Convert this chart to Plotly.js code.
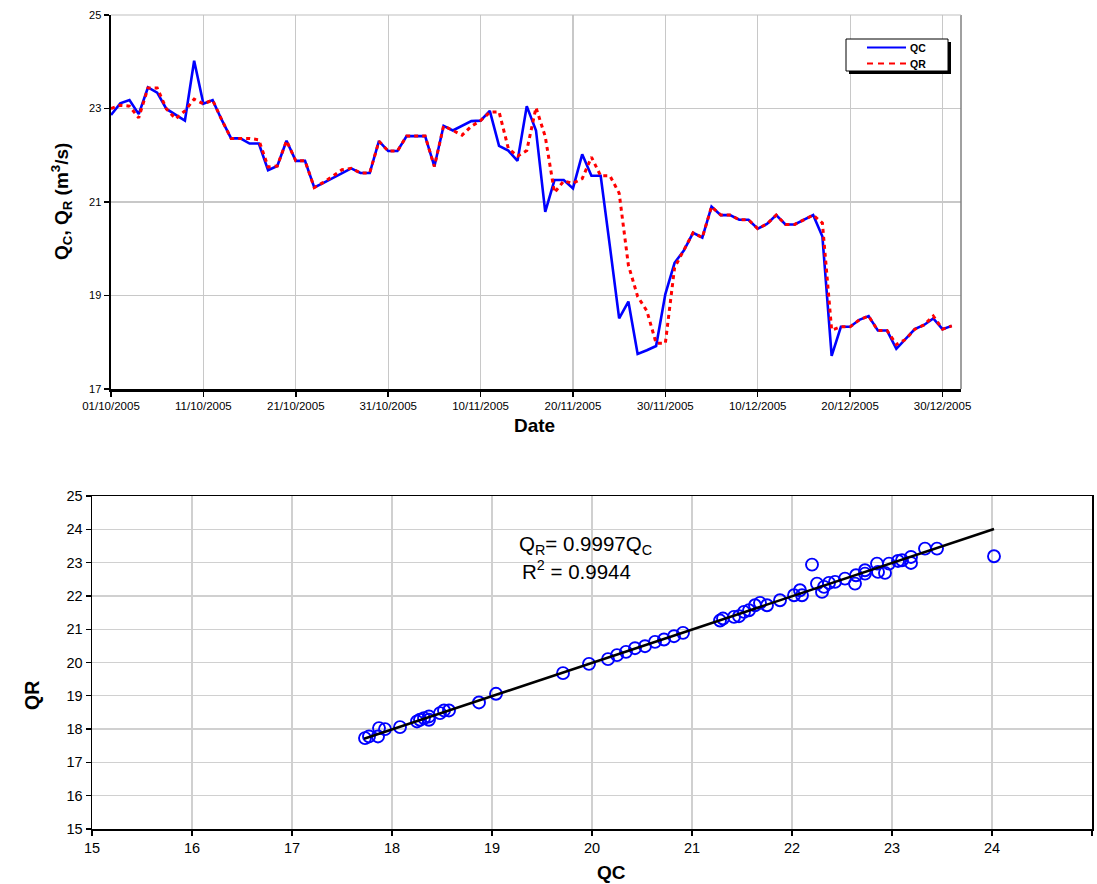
<!DOCTYPE html>
<html>
<head>
<meta charset="utf-8">
<script src="https://cdn.plot.ly/plotly-3.0.1.min.js"></script>
<style>
  html, body { margin: 0; padding: 0; background: #ffffff; }
  #chart { width: 1097px; height: 884px; }
</style>
</head>
<body>
<div id="chart"></div>
<script>
// ---------- data: daily flows, 01/10/2005 .. 31/12/2005 ----------
const startDate = '2005-10-01';
const qcValues = [
  22.86, 23.11, 23.18, 22.88, 23.45, 23.34, 22.99, 22.87, 22.74, 24.02,
  23.10, 23.18, 22.75, 22.36, 22.36, 22.25, 22.25, 21.68, 21.77, 22.31,
  21.88, 21.88, 21.31, 21.41, 21.51, 21.62, 21.72, 21.62, 21.62, 22.30,
  22.09,
  22.09, 22.41, 22.41, 22.41, 21.76, 22.63, 22.53, 22.63, 22.73, 22.74,
  22.95, 22.20, 22.10, 21.88, 23.05, 22.53, 20.79, 21.47, 21.47, 21.29,
  22.02, 21.56, 21.56, 20.05, 18.51, 18.87, 17.75, 17.83, 17.92, 19.03,
  19.70, 19.96, 20.34, 20.24, 20.90, 20.72, 20.72, 20.62, 20.62, 20.43,
  20.53, 20.72, 20.52, 20.52, 20.62, 20.72, 20.26, 17.71, 18.33, 18.33,
  18.48, 18.56, 18.25, 18.25, 17.86, 18.06, 18.28, 18.37, 18.51, 18.28,
  18.35
];
const qrValues = [
  23.00, 23.07, 23.05, 22.80, 23.44, 23.44, 22.99, 22.78, 22.95, 23.20,
  23.10, 23.18, 22.75, 22.36, 22.36, 22.36, 22.33, 21.75, 21.77, 22.31,
  21.88, 21.88, 21.31, 21.42, 21.55, 21.69, 21.72, 21.62, 21.62, 22.30,
  22.09,
  22.09, 22.41, 22.41, 22.41, 21.76, 22.63, 22.53, 22.43, 22.62, 22.74,
  22.92, 22.93, 22.15, 21.98, 22.10, 23.02, 22.40, 21.20, 21.45, 21.40,
  21.50, 21.96, 21.56, 21.56, 21.19, 19.65, 18.98, 18.67, 17.98, 17.98,
  19.60, 19.96, 20.34, 20.24, 20.90, 20.72, 20.72, 20.62, 20.62, 20.43,
  20.53, 20.72, 20.52, 20.52, 20.62, 20.72, 20.55, 18.26, 18.33, 18.33,
  18.48, 18.56, 18.25, 18.25, 17.95, 18.06, 18.28, 18.37, 18.56, 18.28,
  18.35
];
const dateTickVals = ['2005-10-01','2005-10-11','2005-10-21','2005-10-31','2005-11-10',
                      '2005-11-20','2005-11-30','2005-12-10','2005-12-20','2005-12-30'];
const dateTickText = ['01/10/2005','11/10/2005','21/10/2005','31/10/2005','10/11/2005',
                      '20/11/2005','30/11/2005','10/12/2005','20/12/2005','30/12/2005'];
const topYTicks = [17, 19, 21, 23, 25];
const seriesNames = ['QC', 'QR'];

// ---------- scatter QC vs QR ----------
const scatterQC = [
  17.73, 17.77, 17.86, 17.87, 17.93, 18.08, 18.25, 18.28, 18.32, 18.37,
  18.37, 18.48, 18.52, 18.57, 18.87, 19.04, 19.71, 19.97, 20.16, 20.25,
  20.34, 20.43, 20.53, 20.63, 20.72, 20.82, 20.91, 21.28, 21.31, 21.42,
  21.47, 21.52, 21.57, 21.63, 21.68, 21.75, 21.88, 22.02, 22.08, 22.10,
  22.20, 22.25, 22.30, 22.32, 22.37, 22.43, 22.53, 22.63, 22.64, 22.73,
  22.73, 22.85, 22.86, 22.93, 22.97, 23.06, 23.10, 23.19, 23.19, 23.33,
  23.45, 24.02
];
const scatterQR = [
  17.73, 17.78, 17.78, 18.03, 18.00, 18.06, 18.23, 18.28, 18.33, 18.28,
  18.38, 18.48, 18.56, 18.56, 18.80, 19.06, 19.68, 19.96, 20.10, 20.22,
  20.32, 20.43, 20.49, 20.62, 20.69, 20.79, 20.89, 21.26, 21.32, 21.37,
  21.39, 21.52, 21.57, 21.72, 21.79, 21.72, 21.87, 22.02, 22.17, 22.02,
  22.94, 22.37, 22.12, 22.27, 22.39, 22.42, 22.52, 22.37, 22.62, 22.67,
  22.77, 22.97, 22.72, 22.69, 22.97, 23.05, 23.07, 23.17, 22.99, 23.42,
  23.42, 23.19
];
const trendQC = [17.72, 24.02];
const trendQR = [17.71, 24.01];
const scatterTicks = [15,16,17,18,19,20,21,22,23,24,25];

// ---------- build dates ----------
function dayList(start, n) {
  const out = [];
  const d0 = new Date(start + 'T00:00:00Z');
  for (let i = 0; i < n; i++) {
    const d = new Date(d0.getTime() + i * 86400000);
    out.push(d.toISOString().slice(0, 10));
  }
  return out;
}
const dates = dayList(startDate, qcValues.length);

const FONT = 'Arial, "Liberation Sans", sans-serif';
const W = 1097, H = 884;
const px = v => v / W;
const py = v => 1 - v / H;

const QC_LINE = { color: '#0000ff', width: 2.6 };
const QR_LINE = { color: '#ff0000', width: 3, dash: '4px,4px' };

const traces = [
  { x: dates, y: qcValues, name: seriesNames[0], type: 'scatter', mode: 'lines',
    line: QC_LINE, xaxis: 'x', yaxis: 'y', showlegend: false },
  { x: dates, y: qrValues, name: seriesNames[1], type: 'scatter', mode: 'lines',
    line: QR_LINE, xaxis: 'x', yaxis: 'y', showlegend: false },
  { x: scatterQC, y: scatterQR, type: 'scatter', mode: 'markers', showlegend: false,
    marker: { symbol: 'circle-open', size: 12, color: '#0000ff', line: { width: 1.9, color: '#0000ff' } },
    xaxis: 'x2', yaxis: 'y2' },
  { x: trendQC, y: trendQR, type: 'scatter', mode: 'lines', showlegend: false,
    line: { color: '#000000', width: 2.5 }, xaxis: 'x2', yaxis: 'y2' }
];

// legend box (drawn as shapes, Excel style with drop shadow)
const LG = { x0: 846, x1: 948, y0: 39, y1: 71 };
const legendShapes = [
  { type: 'rect', xref: 'paper', yref: 'paper', layer: 'above',
    x0: px(LG.x0 + 3), x1: px(LG.x1 + 3), y0: py(LG.y1 + 3), y1: py(LG.y0 + 3),
    line: { width: 0 }, fillcolor: '#000000' },
  { type: 'rect', xref: 'paper', yref: 'paper', layer: 'above',
    x0: px(LG.x0), x1: px(LG.x1), y0: py(LG.y1), y1: py(LG.y0),
    line: { width: 1, color: '#000000' }, fillcolor: '#ffffff' },
  { type: 'line', xref: 'paper', yref: 'paper', layer: 'above',
    x0: px(867), x1: px(906), y0: py(47.5), y1: py(47.5),
    line: { color: QC_LINE.color, width: 2.2 } },
  { type: 'line', xref: 'paper', yref: 'paper', layer: 'above',
    x0: px(867), x1: px(906), y0: py(63.5), y1: py(63.5),
    line: { color: QR_LINE.color, width: 2.2, dash: '6px,5px' } }
];

const layout = {
  width: W, height: H,
  margin: { l: 0, r: 0, t: 0, b: 0 },
  paper_bgcolor: '#ffffff', plot_bgcolor: '#ffffff',
  font: { family: FONT, color: '#000000' },
  showlegend: false,
  xaxis: {
    domain: [px(111), px(961)], anchor: 'y', type: 'date',
    range: ['2005-10-01', '2006-01-01'],
    tickmode: 'array', tickvals: dateTickVals, ticktext: dateTickText,
    tickfont: { family: FONT, size: 11.5, color: '#000000' },
    ticks: 'outside', ticklen: 5, tickwidth: 1.5, tickcolor: '#000000',
    showline: true, linecolor: '#000000', linewidth: 2.5,
    showgrid: true, gridcolor: '#c8c8c8', gridwidth: 1.2,
    zeroline: false, fixedrange: true
  },
  yaxis: {
    domain: [py(389), py(15)], anchor: 'x',
    range: [17, 25], tickmode: 'array', tickvals: topYTicks,
    tickfont: { family: FONT, size: 11, color: '#000000' },
    ticks: 'outside', ticklen: 5, tickwidth: 1.5, tickcolor: '#000000',
    showline: true, linecolor: '#000000', linewidth: 2.5,
    showgrid: true, gridcolor: '#c8c8c8', gridwidth: 1.2,
    zeroline: false, fixedrange: true
  },
  xaxis2: {
    domain: [px(92), px(1092)], anchor: 'y2',
    range: [15, 25], tickmode: 'array', tickvals: scatterTicks,
    tickfont: { family: FONT, size: 14.5, color: '#000000' },
    ticks: 'outside', ticklen: 5, tickwidth: 1.2, tickcolor: '#000000',
    showline: true, mirror: true, linecolor: '#000000', linewidth: 1.5,
    showgrid: true, gridcolor: '#d0d0d0', gridwidth: 1.2,
    zeroline: false, fixedrange: true
  },
  yaxis2: {
    domain: [py(829), py(496)], anchor: 'x2',
    range: [15, 25], tickmode: 'array', tickvals: scatterTicks,
    tickfont: { family: FONT, size: 14.5, color: '#000000' },
    ticks: 'outside', ticklen: 5, tickwidth: 1.2, tickcolor: '#000000',
    showline: true, mirror: true, linecolor: '#000000', linewidth: 1.5,
    showgrid: true, gridcolor: '#d0d0d0', gridwidth: 1.2,
    zeroline: false, fixedrange: true
  },
  shapes: [
    { type: 'line', xref: 'paper', yref: 'paper', x0: px(961), x1: px(961), y0: py(389), y1: py(15),
      line: { color: '#808080', width: 1.5 } },
    { type: 'line', xref: 'paper', yref: 'paper', x0: px(111), x1: px(961), y0: py(15), y1: py(15),
      line: { color: '#c0c0c0', width: 1.2 } }
  ].concat(legendShapes),
  annotations: [
    { text: '<b>' + seriesNames[0] + '</b>', xref: 'paper', yref: 'paper', x: px(908), y: py(48),
      showarrow: false, xanchor: 'left', yanchor: 'middle',
      font: { family: FONT, size: 10.5, color: '#000000' } },
    { text: '<b>' + seriesNames[1] + '</b>', xref: 'paper', yref: 'paper', x: px(908), y: py(64),
      showarrow: false, xanchor: 'left', yanchor: 'middle',
      font: { family: FONT, size: 10.5, color: '#000000' } },
    { text: '<b>Date</b>', xref: 'paper', yref: 'paper', x: px(534), y: py(425),
      showarrow: false, xanchor: 'center', yanchor: 'middle',
      font: { family: FONT, size: 19, color: '#000000' } },
    { text: '<b>Q<sub>C</sub>, Q<sub>R</sub> (m<sup>3</sup>/s)</b>', xref: 'paper', yref: 'paper',
      x: px(62), y: py(202), textangle: -90, showarrow: false, xanchor: 'center', yanchor: 'middle',
      font: { family: FONT, size: 19, color: '#000000' } },
    { text: '<b>QC</b>', xref: 'paper', yref: 'paper', x: px(611), y: py(872),
      showarrow: false, xanchor: 'center', yanchor: 'middle',
      font: { family: FONT, size: 19, color: '#000000' } },
    { text: '<b>QR</b>', xref: 'paper', yref: 'paper', x: px(32), y: py(696), textangle: -90,
      showarrow: false, xanchor: 'center', yanchor: 'middle',
      font: { family: FONT, size: 19.5, color: '#000000' } },
    { text: 'Q<sub>R</sub>= 0.9997Q<sub>C</sub>', xref: 'paper', yref: 'paper', x: px(585), y: py(545),
      showarrow: false, xanchor: 'center', yanchor: 'middle',
      font: { family: FONT, size: 20.5, color: '#000000' } },
    { text: 'R<sup>2</sup> = 0.9944', xref: 'paper', yref: 'paper', x: px(576), y: py(570),
      showarrow: false, xanchor: 'center', yanchor: 'middle',
      font: { family: FONT, size: 20.5, color: '#000000' } }
  ]
};

Plotly.newPlot('chart', traces, layout, { displayModeBar: false, staticPlot: true });
</script>
</body>
</html>
